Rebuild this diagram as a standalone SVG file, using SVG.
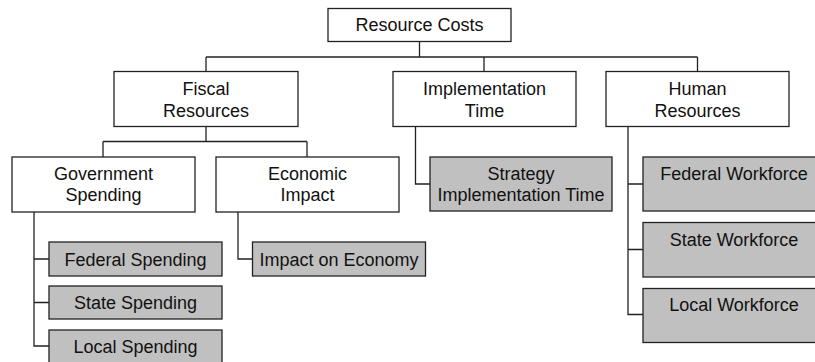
<svg xmlns="http://www.w3.org/2000/svg" width="815" height="362" viewBox="0 0 815 362">
<style>
.box{fill:#ffffff;stroke:#222;stroke-width:1.3}
.leaf{fill:#c0c0c0;stroke:#222;stroke-width:1.3}
text{font-family:"Liberation Sans",Arial,sans-serif;font-size:18px;fill:#111;text-anchor:middle}
#connectors path{fill:none;stroke:#222;stroke-width:1.3}
</style>
<rect width="815" height="362" fill="#ffffff"/>
<g id="connectors">
<path d="M419.5 41.5V57M206 57H697.5M206 57V71.5M484 57V71.5M697.5 57V71.5"/>
<path d="M206 126.5V141.5M103 141.5H307M103 141.5V157M307 141.5V157"/>
<path d="M34 212V346H49M34 259H49M34 302.5H49"/>
<path d="M238 212V259H252.5"/>
<path d="M415.5 126.5V184H430"/>
<path d="M628 126.5V314.5H643M628 184H643M628 249.5H643"/>
</g>
<g id="root"><rect class="box" x="328" y="8.5" width="183" height="33"/><text x="419.5" y="31">Resource Costs</text></g>
<g id="fiscal"><rect class="box" x="114" y="71.5" width="184" height="55"/><text x="206" y="95">Fiscal</text><text x="206" y="116.5">Resources</text></g>
<g id="impl"><rect class="box" x="393" y="71.5" width="183" height="55"/><text x="484.5" y="95">Implementation</text><text x="484.5" y="116.5">Time</text></g>
<g id="human"><rect class="box" x="606" y="71.5" width="183" height="55"/><text x="697.5" y="95">Human</text><text x="697.5" y="116.5">Resources</text></g>
<g id="gov"><rect class="box" x="12" y="157" width="183" height="55"/><text x="103.5" y="179.5">Government</text><text x="103.5" y="201">Spending</text></g>
<g id="econ"><rect class="box" x="216" y="157" width="183" height="55"/><text x="307.5" y="179.5">Economic</text><text x="307.5" y="201">Impact</text></g>
<g id="strategy"><rect class="leaf" x="430" y="157" width="182" height="54"/><text x="521" y="179.5">Strategy</text><text x="521" y="201">Implementation Time</text></g>
<g id="fedspend"><rect class="leaf" x="49" y="242" width="173" height="34"/><text x="135.5" y="265.5">Federal Spending</text></g>
<g id="statespend"><rect class="leaf" x="49" y="286" width="173" height="33"/><text x="135.5" y="309">State Spending</text></g>
<g id="localspend"><rect class="leaf" x="49" y="330" width="173" height="34"/><text x="135.5" y="353">Local Spending</text></g>
<g id="impactecon"><rect class="leaf" x="252.5" y="242" width="173" height="34"/><text x="339" y="265.5">Impact on Economy</text></g>
<g id="fedwork"><rect class="leaf" x="643" y="157" width="182" height="54"/><text x="734" y="179.5">Federal Workforce</text></g>
<g id="statework"><rect class="leaf" x="643" y="222.5" width="182" height="54.5"/><text x="734" y="245.5">State Workforce</text></g>
<g id="localwork"><rect class="leaf" x="643" y="288.5" width="182" height="54"/><text x="734" y="311">Local Workforce</text></g>
</svg>
